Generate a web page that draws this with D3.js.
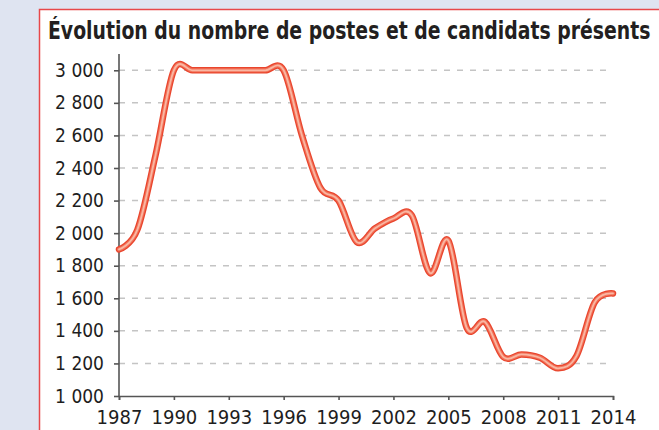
<!DOCTYPE html>
<html>
<head>
<meta charset="utf-8">
<script src="https://cdn.jsdelivr.net/npm/d3@7"></script>
<style>
    body { margin: 0; background: #dfe4f1; }
    svg { display: block; }
    .tick text { font-family: "Liberation Sans Narrow", "Arial Narrow",
        "DejaVu Sans Condensed", sans-serif; fill: #1e1e1e; }
</style>
</head>
<body>
<script>
// Values (year, number)
var years = [1987, 1988, 1989, 1990, 1991, 1992, 1993, 1994, 1995, 1996,
    1997, 1998, 1999, 2000, 2001, 2002, 2003, 2004, 2005, 2006, 2007, 2008,
    2009, 2010, 2011, 2012, 2013, 2014];
var postes = [1900, 2020, 2480, 3000, 3000, 3000, 3000, 3000, 3000, 3000,
    2600, 2280, 2200, 1945, 2030, 2090, 2110, 1755, 1955, 1420, 1455, 1240,
    1255, 1235, 1170, 1245, 1575, 1630];
var xTicks = [1987, 1990, 1993, 1996, 1999, 2002, 2005, 2008, 2011, 2014];
var yTicks = [1000, 1200, 1400, 1600, 1800, 2000, 2200, 2400, 2600, 2800,
    3000];
var title = "Évolution du nombre de postes et de candidats présents";

var W = 659, H = 430;
var margin = {top: 54, right: 46, bottom: 34, left: 119},
    width = W - margin.left - margin.right,
    height = H - margin.top - margin.bottom;

var root = d3.select("body").append("svg")
    .attr("width", W)
    .attr("height", H);

// white panel with a red border, running off the right and bottom
root.append("rect")
    .attr("x", 39.5).attr("y", 9.5)
    .attr("width", 700).attr("height", 500)
    .attr("fill", "#fff")
    .attr("stroke", "#e8474a")
    .attr("stroke-width", 1.5);

// title: measure it, then squeeze it horizontally to the width in the picture
var titleText = root.append("text")
    .attr("font-family", "'Liberation Sans Narrow', 'Arial Narrow', " +
        "'DejaVu Sans Condensed', sans-serif")
    .attr("font-weight", "bold")
    .attr("font-size", "25px")
    .attr("fill", "#231f20")
    .text(title);
var natural = titleText.node().getComputedTextLength();
titleText.attr("transform",
    "translate(48,39) scale(" + (603 / natural) + ",1)");

var svg = root.append("g")
    .attr("transform", "translate(" + margin.left + "," + margin.top + ")");

var xScale = d3.scaleLinear().domain([1987, 2014]).range([0, width]);
var yScale = d3.scaleLinear().domain([1000, 3100]).range([height, 0]);

var fmt = function(d) { return d3.format(",")(d).replace(",", " "); };

// dashed grid lines
svg.selectAll(".grid")
    .data(yTicks.slice(1))
    .enter()
    .append("line")
    .attr("class", "grid")
    .attr("x1", 0).attr("x2", width)
    .attr("y1", function(d) { return yScale(d); })
    .attr("y2", function(d) { return yScale(d); })
    .attr("stroke", "#c4c4c4")
    .attr("stroke-width", 1.5)
    .attr("stroke-dasharray", "6,7");

var yAxis = d3.axisLeft(yScale)
    .tickValues(yTicks)
    .tickSize(5)
    .tickPadding(10)
    .tickFormat(fmt);

var xAxis = d3.axisBottom(xScale)
    .tickValues(xTicks)
    .tickSize(4)
    .tickPadding(8)
    .tickFormat(d3.format("d"));

var gy = svg.append("g").attr("class", "y axis").call(yAxis);
gy.select(".domain").attr("d", "M0,0V" + height);
gy.selectAll("text").attr("font-size", "19px");

var gx = svg.append("g")
    .attr("class", "x axis")
    .attr("transform", "translate(0," + height + ")")
    .call(xAxis);
gx.selectAll("text").attr("font-size", "20px").attr("dy", "0.78em");

svg.selectAll(".axis path, .axis line")
    .attr("stroke", "#555")
    .attr("stroke-width", 1.6);

// smooth line, three strokes for the shaded tube look
var line = d3.line()
    .x(function(d, i) { return xScale(years[i]); })
    .y(function(d) { return yScale(d); })
    .curve(d3.curveCardinal.tension(0));

var strokes = [
    {w: 6.5, c: "#e9452d"},
    {w: 4, c: "#f2735a"},
    {w: 1.8, c: "#f9b7a3"}
];
strokes.forEach(function(s) {
    svg.append("path")
        .datum(postes)
        .attr("d", line)
        .attr("fill", "none")
        .attr("stroke", s.c)
        .attr("stroke-width", s.w)
        .attr("stroke-linejoin", "round")
        .attr("stroke-linecap", "round");
});
</script>
</body>
</html>
